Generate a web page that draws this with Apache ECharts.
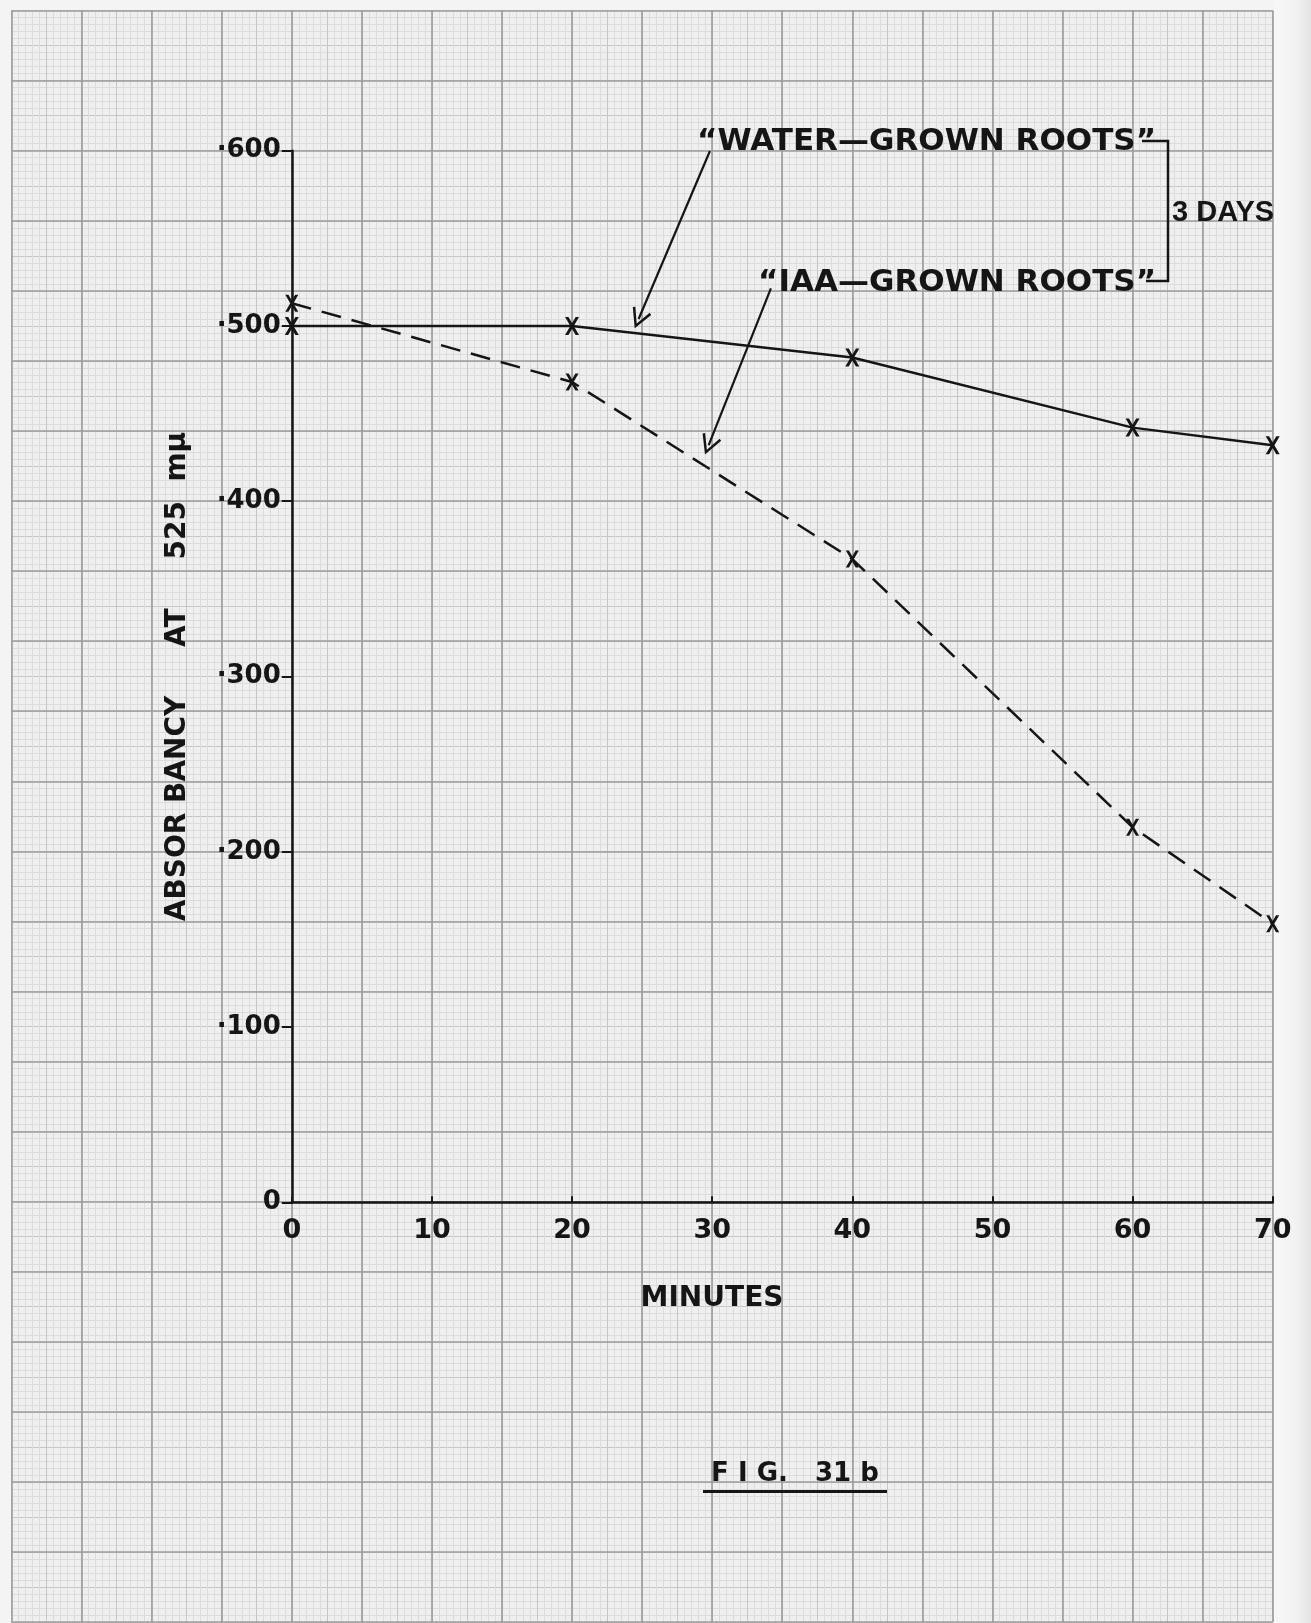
<!DOCTYPE html>
<html>
<head>
<meta charset="utf-8">
<script src="https://cdn.jsdelivr.net/npm/echarts@6/dist/echarts.min.js"></script>
<style>
  html, body { margin: 0; padding: 0; background: #f2f2f2; }
  #chart { width: 1311px; height: 1623px; }
</style>
</head>
<body>
<div id="chart"></div>
<script>
// Absorbancy at 525 mμ against time (minutes)
const minutes = [0, 20, 40, 60, 70];
const waterGrownRoots = [0.500, 0.500, 0.482, 0.442, 0.432];
const iaaGrownRoots = [0.513, 0.468, 0.367, 0.214, 0.159];

const minuteRange = [0, 70];
const minuteStep = 10;
const absorbancyRange = [0, 0.6];
const absorbancyStep = 0.1;

// arrows from the two captions to their curves: [minutes, absorbancy]
const waterArrow = [[29.84, 0.5998], [24.75, 0.5040]];
const iaaArrow = [[34.19, 0.5214], [29.75, 0.4320]];

const INK = '#151515';
const FONT = '"DejaVu Sans", sans-serif';

// hand-drawn style "x" marker and open arrow head
const CROSS = 'path://M0,0 L3.4,0 L14,18 L10.6,18 Z M10.6,0 L14,0 L3.4,18 L0,18 Z';
const CHEVRON = 'path://M10,0 L20,17 L17.8,18.2 L10,4.6 L2.2,18.2 L0,17 Z';

const pairs = (xs, ys) => xs.map((x, i) => [x, ys[i]]);

const chart = echarts.init(document.getElementById('chart'), null, { renderer: 'canvas' });

// graph paper: 70 px squares, 5 mm and 1 mm rulings
const paperAxis = (interval, max, withMinor, z, lineColor, lineWidth) => ({
  type: 'value', min: 0, max: max, interval: interval, z: z,
  axisLine: { show: false }, axisTick: { show: false }, axisLabel: { show: false },
  splitLine: { show: true, lineStyle: { color: lineColor, width: lineWidth } },
  minorTick: { show: false, splitNumber: 5 },
  minorSplitLine: { show: withMinor, lineStyle: { color: '#dcdcdc', width: 1 } }
});

const paperGrid = { left: 11.5, right: 38.3, top: 10.6, bottom: 1.0, show: true,
  backgroundColor: '#efefef', borderWidth: 0, outerBoundsMode: 'none', containLabel: false };

const option = {
  animation: false,
  backgroundColor: '#f4f4f4',
  grid: [
    { left: 291.8, right: 38.3, top: 150.7, bottom: 420.7, outerBoundsMode: 'none', containLabel: false },
    Object.assign({}, paperGrid),
    Object.assign({}, paperGrid, { show: false })
  ],
  xAxis: [
    {
      gridIndex: 0, type: 'value', min: minuteRange[0], max: minuteRange[1], interval: minuteStep, z: 5,
      axisLine: { show: true, onZero: false, lineStyle: { color: INK, width: 2.5 } },
      axisTick: { show: true, inside: true, length: 6, lineStyle: { color: INK, width: 2 } },
      axisLabel: { show: true, margin: 15, color: INK, fontFamily: FONT, fontWeight: 'bold', fontSize: 27 },
      splitLine: { show: false }
    },
    Object.assign(paperAxis(0.5, 18, true, 1, '#c6c6c6', 1), { gridIndex: 1 }),
    Object.assign(paperAxis(1, 18, false, 2, '#9c9c9c', 1.6), { gridIndex: 2 })
  ],
  yAxis: [
    {
      gridIndex: 0, type: 'value', min: absorbancyRange[0], max: absorbancyRange[1], interval: absorbancyStep, z: 5,
      name: 'ABSOR BANCY     AT     525  mμ',
      nameLocation: 'middle', nameGap: 100, nameRotate: 90,
      nameTextStyle: { color: INK, fontFamily: FONT, fontWeight: 'bold', fontSize: 28 },
      axisLine: { show: true, onZero: false, lineStyle: { color: INK, width: 2.5 } },
      axisTick: { show: true, inside: false, length: 10, lineStyle: { color: INK, width: 2 } },
      axisLabel: {
        show: true, margin: 11, color: INK, fontFamily: FONT, fontWeight: 'bold', fontSize: 26,
        padding: [0, 0, 10, 0],
        formatter: v => (v === 0 ? '0' : '·' + Math.round(v * 1000))
      },
      splitLine: { show: false }
    },
    Object.assign(paperAxis(0.5, 23, true, 1, '#c6c6c6', 1), { gridIndex: 1 }),
    Object.assign(paperAxis(1, 23, false, 2, '#9c9c9c', 1.6), { gridIndex: 2 })
  ],
  series: [
    {
      name: 'WATER—GROWN ROOTS', type: 'line', xAxisIndex: 0, yAxisIndex: 0, z: 6,
      data: pairs(minutes, waterGrownRoots),
      symbol: CROSS, symbolSize: [14, 18], showAllSymbol: true,
      itemStyle: { color: INK },
      lineStyle: { color: INK, width: 2.5, type: 'solid' },
      markLine: {
        silent: true, symbol: ['none', CHEVRON], symbolSize: [20, 20],
        label: { show: false },
        lineStyle: { color: INK, width: 2.2, type: 'solid' },
        data: [[{ coord: waterArrow[0] }, { coord: waterArrow[1] }]]
      }
    },
    {
      name: 'IAA—GROWN ROOTS', type: 'line', xAxisIndex: 0, yAxisIndex: 0, z: 6,
      data: pairs(minutes, iaaGrownRoots),
      symbol: CROSS, symbolSize: [13, 17], showAllSymbol: true,
      itemStyle: { color: INK },
      lineStyle: { color: INK, width: 2.5, type: [20, 11] },
      markLine: {
        silent: true, symbol: ['none', CHEVRON], symbolSize: [20, 20],
        label: { show: false },
        lineStyle: { color: INK, width: 2.2, type: 'solid' },
        data: [[{ coord: iaaArrow[0] }, { coord: iaaArrow[1] }]]
      }
    }
  ],
  graphic: [
    // shaded page edge to the right of the ruled area
    {
      type: 'rect', z: -1, silent: true,
      shape: { x: 1274, y: 0, width: 37, height: 1623 },
      style: { fill: new echarts.graphic.LinearGradient(0, 0, 1, 0, [
        { offset: 0, color: '#f7f7f7' }, { offset: 0.6, color: '#f2f2f2' }, { offset: 1, color: '#e4e4e4' }
      ]) }
    },
    {
      type: 'text', z: 20, x: 1156, y: 142,
      style: { text: '“WATER—GROWN ROOTS”', fill: INK, font: 'bold 31px ' + FONT, align: 'right', verticalAlign: 'middle' }
    },
    {
      type: 'text', z: 20, x: 1156, y: 283,
      style: { text: '“IAA—GROWN ROOTS”', fill: INK, font: 'bold 31px ' + FONT, align: 'right', verticalAlign: 'middle' }
    },
    {
      type: 'polyline', z: 20,
      shape: { points: [[1142, 141], [1168, 141], [1168, 281], [1146, 281]] },
      style: { stroke: INK, lineWidth: 2.5, fill: null }
    },
    {
      type: 'text', z: 20, x: 1172, y: 213,
      style: { text: '3 DAYS', fill: INK, font: 'bold 29px "Liberation Sans", sans-serif', align: 'left', verticalAlign: 'middle' }
    },
    {
      type: 'text', z: 20, x: 712, y: 1299,
      style: { text: 'MINUTES', fill: INK, font: 'bold 28px ' + FONT, align: 'center', verticalAlign: 'middle' }
    },
    {
      type: 'text', z: 20, x: 795, y: 1474,
      style: { text: 'F I G.   31 b', fill: INK, font: 'bold 26px ' + FONT, align: 'center', verticalAlign: 'middle' }
    },
    {
      type: 'line', z: 20,
      shape: { x1: 703, y1: 1491.5, x2: 887, y2: 1491.5 },
      style: { stroke: INK, lineWidth: 3 }
    }
  ]
};

chart.setOption(option);
</script>
</body>
</html>
